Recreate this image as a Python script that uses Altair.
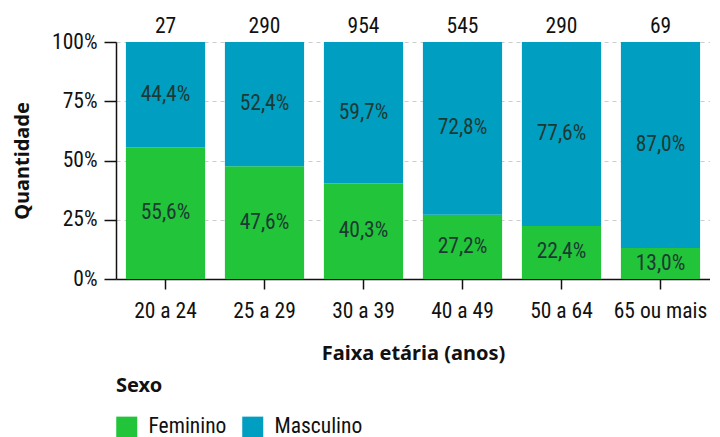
import altair as alt
import pandas as pd

faixas = ["20 a 24", "25 a 29", "30 a 39", "40 a 49", "50 a 64", "65 ou mais"]
feminino = [15, 138, 384, 148, 65, 9]
masculino = [12, 152, 570, 397, 225, 60]

FONT = "'Roboto Condensed', 'Noto Sans'"
BFONT = "'Noto Sans', 'Open Sans'"
FS = 21.5
BFS = 20
GREEN = "#22c43a"
BLUE = "#009fc2"

rows = []
for f, nf, nm in zip(faixas, feminino, masculino):
    tot = nf + nm
    pf = nf / tot
    pm = nm / tot
    rows.append({"faixa": f, "sexo": "Feminino", "n": nf, "pct": pf,
                 "mid": pf / 2, "lab": f"{pf*100:.1f}%".replace(".", ",")})
    rows.append({"faixa": f, "sexo": "Masculino", "n": nm, "pct": pm,
                 "mid": pf + pm / 2, "lab": f"{pm*100:.1f}%".replace(".", ",")})
df = pd.DataFrame(rows)
tot_df = pd.DataFrame({"faixa": faixas,
                       "total": [a + b for a, b in zip(feminino, masculino)],
                       "top": [1.0] * len(faixas)})

xenc = alt.X("faixa:N", sort=faixas, title="Faixa etária (anos)",
             scale=alt.Scale(paddingInner=0.2, paddingOuter=0.1))

bars = alt.Chart(df).mark_bar().encode(
    x=xenc,
    y=alt.Y("n:Q", stack="normalize", title="Quantidade",
            scale=alt.Scale(domain=[0, 1]),
            axis=alt.Axis(format="%", values=[0, 0.25, 0.5, 0.75, 1])),
    color=alt.Color("sexo:N", title="Sexo",
                    scale=alt.Scale(domain=["Feminino", "Masculino"], range=[GREEN, BLUE]),
                    legend=alt.Legend(orient="bottom", direction="horizontal",
                                      symbolType="square", symbolSize=441,
                                      symbolStrokeWidth=0, symbolOpacity=1,
                                      titleFontSize=BFS, labelFontSize=FS,
                                      titleFont=BFONT, labelFont=FONT,
                                      titleColor="#111", labelColor="#111",
                                      titleFontWeight="bold", columnPadding=15,
                                      labelOffset=11, titlePadding=20, offset=12)),
    order=alt.Order("sexo:N", sort="ascending"),
)

pct_text = alt.Chart(df).mark_text(fontSize=FS, font=FONT, color="#1c3a33").encode(
    x=alt.X("faixa:N", sort=faixas),
    y=alt.Y("mid:Q"),
    text="lab:N",
)

tot_text = alt.Chart(tot_df).mark_text(fontSize=FS, font=FONT, color="#111",
                                       baseline="bottom", dy=-4).encode(
    x=alt.X("faixa:N", sort=faixas),
    y=alt.Y("top:Q"),
    text="total:Q",
)

chart = alt.layer(bars, pct_text, tot_text).properties(
    width=594, height=237,
    padding={"left": 4, "top": 8, "right": 0, "bottom": 0},
).configure_view(stroke=None).configure_axis(
    labelFont=FONT, titleFont=BFONT, labelFontSize=FS, titleFontSize=BFS,
    labelColor="#111", titleColor="#111", titleFontWeight="bold",
    domainColor="#111", tickColor="#111", domainWidth=1.5, tickWidth=1.5,
).configure_axisY(
    gridDash=[4, 4], gridColor="#cccccc", titlePadding=19, labelPadding=7, tickSize=12
).configure_axisX(
    grid=False, labelAngle=0, titlePadding=22, labelPadding=11, tickSize=10
)

chart.save("out.html", embed_options={"renderer": "svg", "actions": False})
